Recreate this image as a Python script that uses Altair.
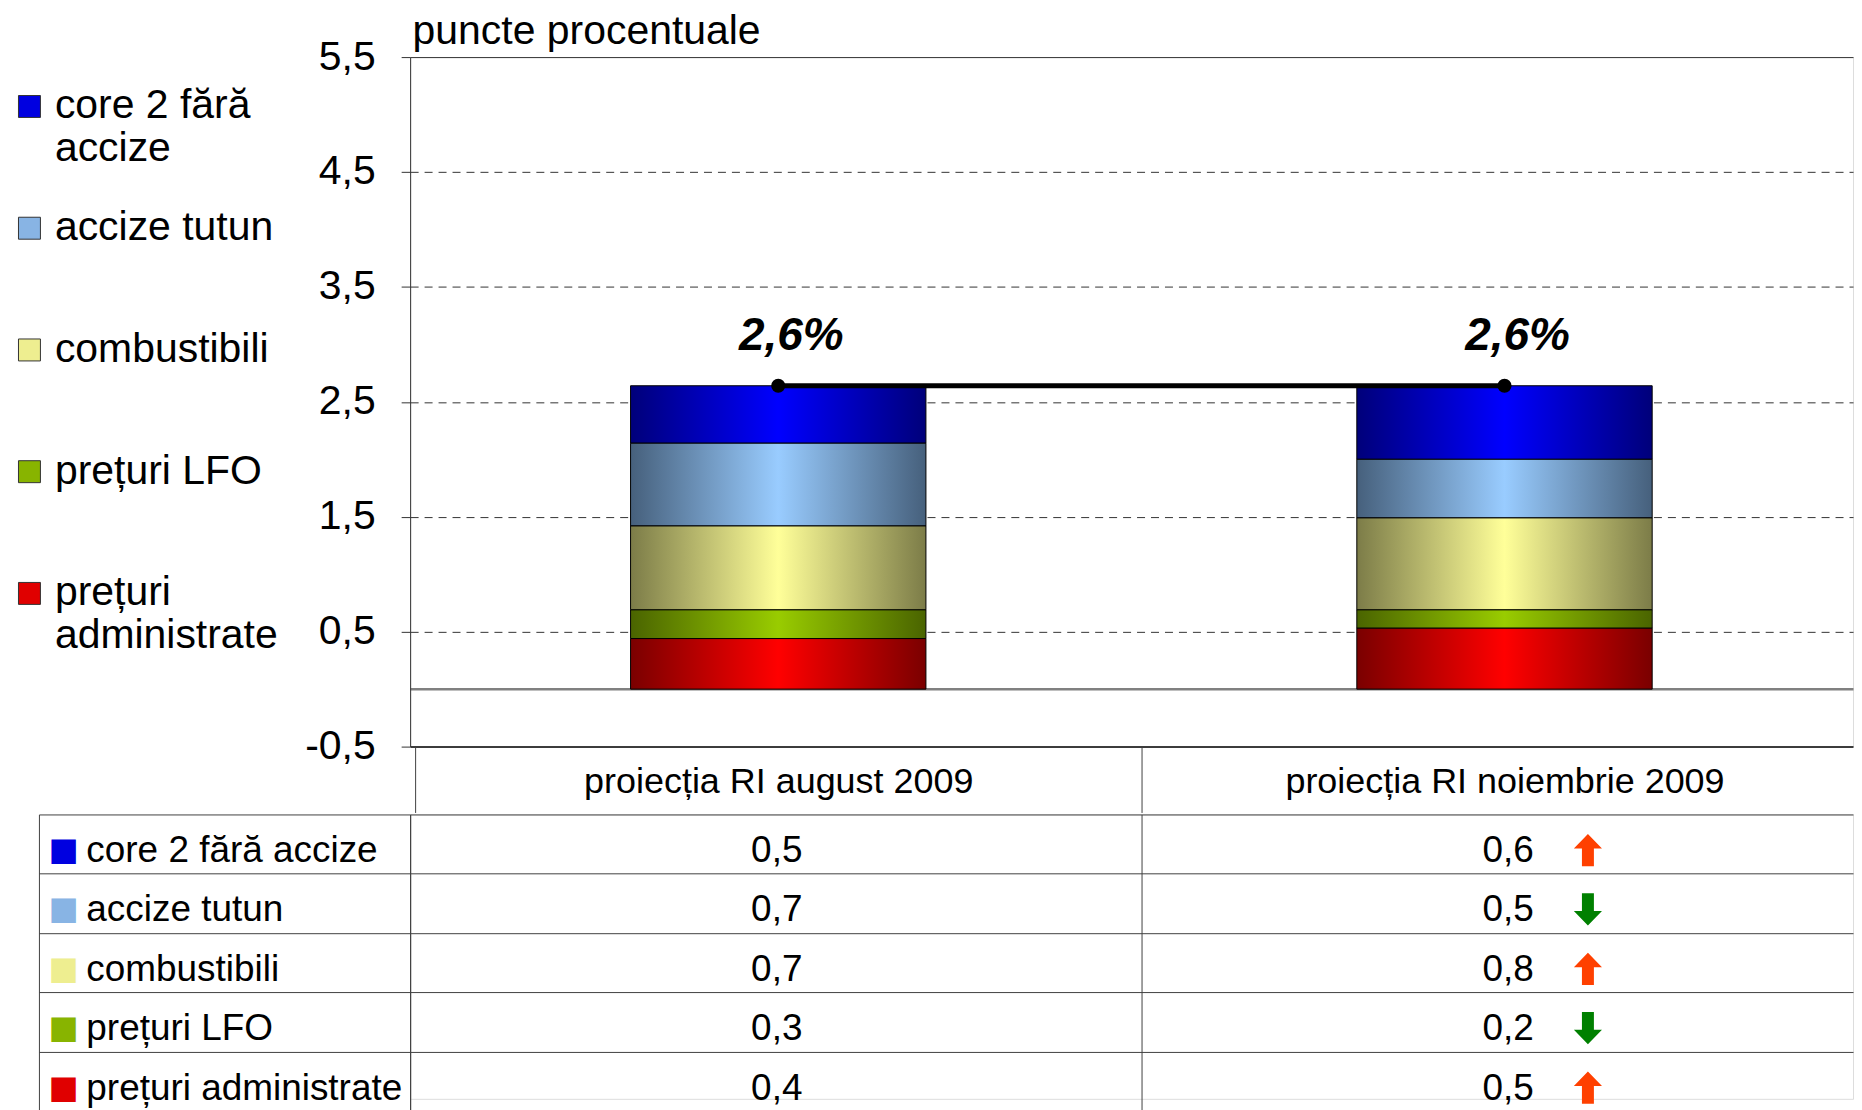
import json
import altair as alt
import pandas as pd

F = "Liberation Sans"

categories = ["proiecția RI august 2009", "proiecția RI noiembrie 2009"]
series = ["core 2 fără accize", "accize tutun", "combustibili", "prețuri LFO", "prețuri administrate"]
aug_values = [0.50, 0.72, 0.73, 0.25, 0.44]
nov_values = [0.64, 0.51, 0.80, 0.16, 0.53]
aug_table = [0.5, 0.7, 0.7, 0.3, 0.4]
nov_table = [0.6, 0.5, 0.8, 0.2, 0.5]
y_ticks = [-0.5, 0, 0.5, 1.5, 2.5, 3.5, 4.5, 5.5]

edge_colors = ["#00007A", "#46607C", "#7C7C48", "#4A6400", "#7A0000"]
center_colors = ["#0000FF", "#99CCFF", "#FFFF99", "#99CC00", "#FF0000"]
legend_colors = ["#0000E0", "#88B4E4", "#EEEE90", "#88B400", "#E00000"]

bars = pd.DataFrame([
    {"cat": c, "idx": k, "series": s, "order": i, "value": v}
    for k, (c, vals) in enumerate(zip(categories, [aug_values, nov_values]))
    for i, (s, v) in enumerate(zip(series, vals))
])
table = pd.DataFrame([
    {"cat": c, "idx": k, "series": s, "shown": v}
    for k, (c, vals) in enumerate(zip(categories, [aug_table, nov_table]))
    for s, v in zip(series, vals)
])
arrows = pd.DataFrame({
    "cat": [categories[1]] * len(series),
    "idx": [1] * len(series),
    "series": series,
    "dir": ["up" if n > a else "down" for a, n in zip(aug_table, nov_table)],
})

UP = "M0,-1L0.87,-0.1L0.37,-0.1L0.37,1L-0.37,1L-0.37,-0.1L-0.87,-0.1Z"
DOWN = "M0,1L0.87,0.1L0.37,0.1L0.37,-1L-0.37,-1L-0.37,0.1L-0.87,0.1Z"

W = 1446
cat_expr = json.dumps(categories, ensure_ascii=False) + "[datum.value] || ''"

# category positions: index 0 and 1, column borders at -0.5 and 0.5
xscale = alt.Scale(domain=[-0.5, 1.473], nice=False, zero=False)
x_axis_top = alt.Axis(
    values=[-0.5, 0, 0.5, 1], labelExpr=cat_expr, title=None,
    labelFontSize=36, labelFont=F, labelColor="black", labelAngle=0,
    labelPadding=-31, labelBaseline="middle", labelLimit=0, labelFlush=False,
    labelOverlap=False, tickSize=66, tickColor="#404040",
    tickOpacity={"condition": {"test": "datum.value % 1 != 0", "value": 1}, "value": 0},
    domain=False, grid=False,
)
x_top = alt.X("idx:Q", scale=xscale, axis=x_axis_top)

yscale = alt.Scale(domain=[-0.5, 5.5], nice=False, zero=False)
y_axis_top = alt.Axis(
    values=y_ticks,
    labelExpr="datum.value == 0 ? '' : replace(replace(format(datum.value, '.1f'), '.', ','), '\u2212', '-')",
    labelFontSize=41, labelFont=F, labelColor="black", labelPadding=26,
    tickSize=9, tickColor="#333333",
    tickOpacity={"condition": {"test": "datum.value == 0", "value": 0}, "value": 1},
    domainColor="#333333",
    grid=True,
    gridColor={"condition": [
        {"test": "datum.value == 0", "value": "#808080"},
        {"test": "datum.value == -0.5", "value": "#000000"},
    ], "value": "#333333"},
    gridWidth={"condition": [
        {"test": "datum.value == 0", "value": 2.5},
        {"test": "datum.value == -0.5", "value": 1.5},
    ], "value": 1},
    gridDash={"condition": {"test": "datum.value == 0 || datum.value == 5.5 || datum.value == -0.5", "value": []},
              "value": [8, 6]},
    title="puncte procentuale", titleAngle=0, titleAlign="left", titleBaseline="top",
    titleX=2, titleY=-46, titleFontSize=41, titleFontWeight="normal", titleFont=F,
    titleColor="black",
)

legend = alt.Legend(
    title=None, orient="none", legendX=-402, legendY=29, padding=0,
    symbolType="square", symbolSize=484, symbolStrokeColor="#333333",
    symbolStrokeWidth=1, symbolOpacity=1,
    labelFontSize=41, labelFont=F, labelColor="black", labelLimit=0,
    labelOffset=5, labelBaseline="middle", rowPadding=37,
    labelExpr=("datum.label == 'core 2 fără accize' ? ['core 2 fără', 'accize'] : "
               "datum.label == 'prețuri administrate' ? ['prețuri', 'administrate'] : "
               "[datum.label, '']"),
)

legend_layer = alt.Chart(bars).mark_square(size=0, filled=True).encode(
    x=x_top,
    y=alt.Y("value:Q", scale=yscale, axis=y_axis_top),
    color=alt.Color("series:N", scale=alt.Scale(domain=series, range=legend_colors), legend=legend),
)

base = alt.Chart(bars).transform_stack(
    stack="value", groupby=["cat"], as_=["y0", "y1"],
    sort=[alt.SortField("order", "descending")],
)

bar_layers = []
for s, e, c in zip(series, edge_colors, center_colors):
    grad = alt.LinearGradient(
        gradient="linear",
        stops=[alt.GradientStop(color=e, offset=0), alt.GradientStop(color=c, offset=0.5),
               alt.GradientStop(color=e, offset=1)],
        x1=0, x2=1, y1=0, y2=0,
    )
    bar_layers.append(
        base.transform_filter(alt.datum.series == s)
        .mark_bar(fill=grad, stroke="black", strokeWidth=1, width=296)
        .encode(x=x_top, y=alt.Y("y0:Q", scale=yscale, axis=y_axis_top), y2="y1:Q")
    )

totals = alt.Chart(bars).transform_aggregate(
    total="sum(value)", groupby=["cat", "idx"]
).transform_calculate(
    lbl="replace(format(datum.total, '.1f'), '.', ',') + '%'"
)
y_tot = alt.Y("total:Q", scale=yscale, axis=y_axis_top)
line = totals.mark_line(color="black", strokeWidth=5).encode(x=x_top, y=y_tot)
pts = totals.mark_circle(size=200, color="black", opacity=1).encode(x=x_top, y=y_tot)
lbls = totals.mark_text(
    fontSize=46, fontWeight="bold", fontStyle="italic", font=F, color="black", dy=-50, dx=13
).encode(x=x_top, y=y_tot, text="lbl:N")

top = alt.layer(legend_layer, *bar_layers, line, pts, lbls).properties(width=W, height=691)

# table
x_axis_tab = alt.Axis(values=[-0.5, 0.5], orient="top", title=None, labels=False, ticks=False,
                      domain=False, grid=True, gridColor="#404040")
yscale_tab = alt.Scale(type="band", domain=series, range=[0, 297.5], paddingInner=0, paddingOuter=0)
y_axis_lab = alt.Axis(
    orient="left", title=None, labelFontSize=37, labelFont=F, labelColor="black",
    labelAlign="left", labelPadding=-47, labelOffset=7, labelLimit=0,
    tickSize=372, tickColor="#404040", bandPosition=0, grid=True, gridColor="#404040",
    domainColor="#404040",
)
sq_cond = [{"test": f"datum.value == '{s}'", "value": col} for s, col in zip(series, legend_colors)]
y_axis_sq = alt.Axis(
    orient="left", offset=372, title=None, labelExpr="'\u25a0'", labelFont="DejaVu Sans",
    labelFontSize=32, labelColor={"condition": sq_cond, "value": "black"},
    labelAlign="left", labelPadding=-9, labelOffset=6, ticks=False, tickSize=0,
    grid=False, domain=True, domainColor="#404040",
)

t_text = alt.Chart(table).transform_calculate(
    lbl="replace(format(datum.shown, '.1f'), '.', ',')"
).mark_text(fontSize=37, font=F, color="black", dx=1, dy=7).encode(
    x=alt.X("idx:Q", scale=xscale, axis=x_axis_tab),
    y=alt.Y("series:N", scale=yscale_tab, axis=y_axis_lab),
    text="lbl:N",
)
t_arrows = alt.Chart(arrows).mark_point(filled=True, size=1050, opacity=1, strokeWidth=0).encode(
    x=alt.X("idx:Q", scale=xscale, axis=x_axis_tab),
    xOffset=alt.value(81),
    y=alt.Y("series:N", scale=yscale_tab, axis=y_axis_sq, bandPosition=0.6),
    shape=alt.Shape("dir:N", scale=alt.Scale(domain=["up", "down"], range=[UP, DOWN]), legend=None),
    fill=alt.Fill("dir:N", scale=alt.Scale(domain=["up", "down"], range=["#FF4000", "#008000"]), legend=None),
)
tab = alt.layer(t_text, t_arrows).resolve_axis(y="independent").properties(width=W, height=285)

chart = alt.vconcat(top, tab, spacing=0).resolve_scale(
    color="independent", fill="independent", shape="independent"
).properties(
    padding={"left": 0, "top": 0, "right": 0, "bottom": 0}, background="white"
).configure_view(stroke=None).configure(font=F)

chart.save("out.html", embed_options={"renderer": "svg", "actions": False})
